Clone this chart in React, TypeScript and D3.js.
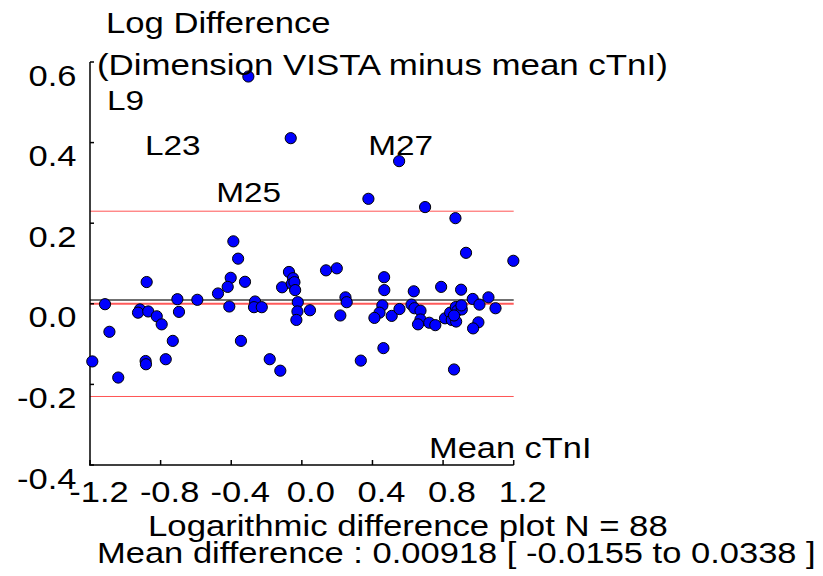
import { useEffect, useRef } from 'react';
import * as d3 from 'd3';

// mean cTnI (log) and log difference
const meanLog = [
  -0.303, -0.063, 0.551, 0.377, 0.698, 0.870,
  -0.388, -0.361, -0.879, -0.403, -0.420, -0.475, -0.592, -0.705, -1.115, -0.411,
  -0.917, -0.928, -0.870, -0.822, -0.696, -0.794, -1.090, -0.731, -0.345, -1.187,
  -0.885, -0.883, -0.771, -1.040,
  -0.322, -0.265, -0.271, -0.227, -0.182, -0.122, -0.073, -0.050, -0.112, -0.057,
  -0.042, -0.038, -0.023, -0.025, -0.031, 0.046, 0.137, 0.198, 0.247, 0.254,
  0.218, 0.334,
  0.466, 0.467, 0.456, 0.440, 0.411, 0.462,
  0.930, 1.198, 0.509, 0.553, 0.634, 0.621, 0.638, 0.672, 0.672, 0.658,
  0.722, 0.756, 0.789, 0.811, 0.840, 0.849, 0.874, 0.872, 0.881, 0.906,
  0.902, 0.904, 0.862, 0.968, 1.006, 1.057, 1.097, 1.000, 0.970, 0.862,
];
const logDiff = [
  0.564, 0.411, 0.354, 0.2605, 0.240, 0.2125,
  0.155, 0.112, 0.054, 0.0645, 0.042, 0.0256, 0.0099, 0.0114, -0.001, -0.0067,
  -0.014, -0.022, -0.019, -0.031, -0.020, -0.051, -0.0695, -0.092, -0.092, -0.143,
  -0.142, -0.150, -0.1375, -0.183,
  0.0546, 0.0057, -0.0084, -0.0084, -0.1375, -0.166, 0.079, 0.0635, 0.041, 0.0496,
  0.0536, 0.034, 0.004, -0.019, -0.040, -0.016, 0.083, 0.088, 0.016, 0.004,
  -0.029, -0.141,
  0.066, 0.034, -0.004, -0.022, -0.035, -0.110,
  0.1265, 0.1067, -0.030, -0.013, 0.031, -0.002, -0.011, -0.017, -0.039, -0.051,
  -0.047, -0.053, 0.042, -0.036, -0.022, -0.040, -0.044, -0.008, -0.017, -0.014,
  0.035, -0.004, -0.029, 0.012, -0.002, 0.016, -0.011, -0.046, -0.061, -0.163,
];

const xTicks = [-1.2, -0.8, -0.4, 0.0, 0.4, 0.8, 1.2];
const yTicks = [0.6, 0.4, 0.2, 0.0, -0.2, -0.4];

const meanDiff = 0.00918;
const upperLimit = 0.2298;
const lowerLimit = -0.2300;

const pointLabels = ['L9', 'L23', 'M25', 'M27'];
const pointLabelX = [-1.104, -0.889, -0.485, 0.376];
const pointLabelY = [0.480, 0.368, 0.253, 0.368];

const FONT = '"Liberation Sans", Arial, Helvetica, sans-serif';
const SX = 1.17;

function App() {
  const ref = useRef<SVGSVGElement>(null);

  useEffect(() => {
    const svg = d3.select(ref.current);
    svg.selectAll('*').remove();

    const x = d3.scaleLinear().domain([-1.2, 1.2]).range([90, 513.7]);
    const y = d3.scaleLinear().domain([-0.4, 0.6]).range([465, 62]);

    const text = (tx: number, ty: number, s: string, anchor = 'start', size = 29) =>
      svg
        .append('text')
        .attr('transform', `translate(${tx},${ty}) scale(${SX},1)`)
        .attr('text-anchor', anchor)
        .attr('font-family', FONT)
        .attr('font-size', size)
        .attr('fill', '#000')
        .text(s);

    // reference lines
    const hline = (v: number, color: string, w: number, op = 1) =>
      svg
        .append('line')
        .attr('x1', x(-1.2))
        .attr('x2', x(1.2))
        .attr('y1', y(v))
        .attr('y2', y(v))
        .attr('stroke', color)
        .attr('stroke-width', w)
        .attr('stroke-opacity', op);

    hline(upperLimit, '#ff2a2a', 1, 0.8);
    hline(lowerLimit, '#ff2a2a', 1, 0.8);
    hline(0, '#ff5a5a', 2);
    hline(meanDiff, '#707070', 2);

    // axes
    const g = svg.append('g').attr('stroke', '#000').attr('stroke-width', 1.5);
    g.append('line').attr('x1', x(-1.2)).attr('x2', x(-1.2)).attr('y1', y(0.6)).attr('y2', y(-0.4));
    g.append('line').attr('x1', x(-1.2) - 1).attr('x2', x(1.2)).attr('y1', y(-0.4)).attr('y2', y(-0.4));
    g.selectAll('.yt')
      .data(yTicks)
      .enter()
      .append('line')
      .attr('x1', x(-1.2))
      .attr('x2', x(-1.2) + 4)
      .attr('y1', (d) => y(d))
      .attr('y2', (d) => y(d));
    g.selectAll('.xt')
      .data(xTicks)
      .enter()
      .append('line')
      .attr('x1', (d) => x(d))
      .attr('x2', (d) => x(d))
      .attr('y1', y(-0.4))
      .attr('y2', y(-0.4) - 5);

    // points
    svg
      .append('g')
      .selectAll('circle')
      .data(meanLog)
      .enter()
      .append('circle')
      .attr('cx', (d) => x(d))
      .attr('cy', (d, i) => y(logDiff[i]))
      .attr('r', 5.6)
      .attr('fill', '#0000ff')
      .attr('stroke', '#000')
      .attr('stroke-width', 1);

    // tick labels
    yTicks.forEach((d) => text(76.5, y(d) + 23.5, d.toFixed(1), 'end', 29.5));
    xTicks.forEach((d) => text(x(d) + 9, 502, d.toFixed(1), 'middle', 29.5));

    // titles
    text(106, 33, 'Log Difference', 'start', 29.6);
    text(97, 75, '(Dimension VISTA minus mean cTnI)', 'start', 29.8);
    text(429, 458, 'Mean cTnI', 'start', 29.4);
    text(148, 536, 'Logarithmic difference plot N = 88', 'start', 29.7);
    text(97, 563, 'Mean difference : 0.00918 [ -0.0155 to 0.0338 ]', 'start', 29.5);

    pointLabels.forEach((s, i) => text(x(pointLabelX[i]), y(pointLabelY[i]), s, 'start', 28.5));
  }, []);

  return (
    <svg
      ref={ref}
      width={823}
      height={576}
      style={{ position: 'absolute', left: 0, top: 0, background: '#fff' }}
    />
  );
}

export default App;
